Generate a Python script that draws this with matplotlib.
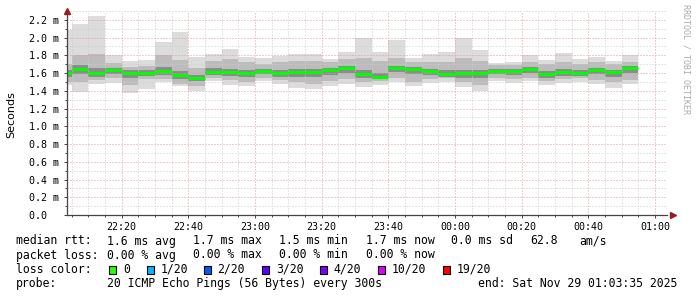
import matplotlib
matplotlib.use("Agg")
import matplotlib.dates as mdates
import matplotlib.pyplot as plt
import pandas as pd
from matplotlib.patches import Rectangle
from matplotlib.ticker import FuncFormatter, MultipleLocator

# 5-minute samples, each value covers the 5 minutes ending at its timestamp
sample_end = pd.date_range("2025-11-28 22:05", periods=35, freq="5min")
window_start = pd.Timestamp("2025-11-28 22:03:35")
window_end = pd.Timestamp("2025-11-29 01:03:35")

# round trip times in ms
rtt_median = [1.605, 1.65, 1.60, 1.63, 1.60, 1.60, 1.62, 1.575, 1.545, 1.617,
              1.61, 1.605, 1.625, 1.605, 1.613, 1.613, 1.636, 1.655, 1.59, 1.56,
              1.652, 1.643, 1.62, 1.592, 1.60, 1.605, 1.627, 1.622, 1.648, 1.587,
              1.615, 1.60, 1.636, 1.615, 1.655]
rtt_max = [2.09, 2.155, 2.24, 1.805, 1.737, 1.75, 1.95, 2.065, 1.785, 1.82,
           1.873, 1.785, 1.767, 1.79, 1.82, 1.82, 1.757, 1.835, 1.995, 1.838,
           1.974, 1.767, 1.812, 1.838, 1.995, 1.86, 1.71, 1.725, 1.805, 1.75,
           1.83, 1.76, 1.786, 1.738, 1.805]
rtt_min = [1.47, 1.385, 1.475, 1.49, 1.37, 1.42, 1.505, 1.45, 1.40, 1.51,
           1.467, 1.45, 1.51, 1.478, 1.436, 1.42, 1.45, 1.478, 1.44, 1.467,
           1.505, 1.46, 1.486, 1.497, 1.44, 1.40, 1.51, 1.486, 1.51, 1.467,
           1.49, 1.505, 1.478, 1.436, 1.472]
rtt_p90 = [1.70, 1.80, 1.82, 1.71, 1.67, 1.68, 1.80, 1.75, 1.66, 1.74,
           1.76, 1.73, 1.70, 1.72, 1.74, 1.74, 1.72, 1.76, 1.77, 1.74,
           1.77, 1.72, 1.72, 1.73, 1.77, 1.74, 1.69, 1.69, 1.72, 1.70,
           1.73, 1.70, 1.72, 1.70, 1.73]
rtt_p10 = [1.50, 1.505, 1.52, 1.54, 1.47, 1.537, 1.537, 1.48, 1.45, 1.54,
           1.52, 1.50, 1.55, 1.52, 1.50, 1.48, 1.51, 1.53, 1.50, 1.51,
           1.55, 1.50, 1.53, 1.54, 1.50, 1.47, 1.55, 1.53, 1.55, 1.51,
           1.53, 1.54, 1.52, 1.50, 1.52]
rtt_p70 = [1.64, 1.69, 1.66, 1.66, 1.63, 1.63, 1.67, 1.62, 1.58, 1.66,
           1.65, 1.64, 1.65, 1.64, 1.65, 1.65, 1.66, 1.68, 1.63, 1.60,
           1.68, 1.67, 1.65, 1.63, 1.64, 1.64, 1.65, 1.65, 1.67, 1.62,
           1.65, 1.63, 1.66, 1.64, 1.68]
rtt_p30 = [1.56, 1.59, 1.56, 1.59, 1.55, 1.57, 1.58, 1.53, 1.51, 1.58,
           1.57, 1.56, 1.59, 1.56, 1.56, 1.56, 1.58, 1.60, 1.55, 1.53,
           1.61, 1.59, 1.58, 1.56, 1.55, 1.55, 1.59, 1.58, 1.60, 1.55,
           1.57, 1.57, 1.59, 1.56, 1.60]

loss_labels = ["0", "1/20", "2/20", "3/20", "4/20", "10/20", "19/20"]
loss_colors = ["#26ff00", "#00b8ff", "#0059ff", "#5e00ff", "#7e00ff", "#dd00ff", "#ff0000"]

stats_rtt = ["1.6 ms avg", "1.7 ms max", "1.5 ms min", "1.7 ms now", "0.0 ms sd", "62.8", "am/s"]
stats_loss = ["0.00 % avg", "0.00 % max", "0.00 % min", "0.00 % now"]

W, H = 697, 297
fig = plt.figure(figsize=(W / 100, H / 100), dpi=100)
fig.patch.set_facecolor("white")
ax = fig.add_axes([67 / W, 1 - 215 / H, 600 / W, (215 - 11) / H])

step = pd.Timedelta(minutes=5)
left = mdates.date2num(sample_end - step)
width = 5 / 1440

def band(lo, hi, color):
    heights = [h - l for l, h in zip(lo, hi)]
    ax.bar(left, heights, bottom=lo, width=width, align="edge",
           color=color, linewidth=0, zorder=1)

band(rtt_min, rtt_max, "#dcdcdc")
band(rtt_p10, rtt_p90, "#bcbcbc")
band(rtt_p30, rtt_p70, "#8c8c8c")
ax.hlines(rtt_median, left, left + width, colors="#00ff00", linewidth=2.2, zorder=4)

ax.set_xlim(mdates.date2num(window_start), mdates.date2num(window_end))
ax.set_ylim(0, 2.3)

ax.xaxis.set_major_locator(mdates.MinuteLocator(byminute=[0, 20, 40]))
ax.xaxis.set_minor_locator(mdates.MinuteLocator(byminute=range(0, 60, 5)))
ax.xaxis.set_major_formatter(mdates.DateFormatter("%H:%M"))
ax.yaxis.set_major_locator(MultipleLocator(0.2))
ax.yaxis.set_minor_locator(MultipleLocator(0.1))
ax.yaxis.set_major_formatter(FuncFormatter(lambda v, p: "0.0  " if abs(v) < 1e-9 else f"{v:.1f} m"))

ax.set_axisbelow(False)
ax.grid(True, which="minor", color="#cccccc", linestyle=(0, (1, 2)), linewidth=0.72, zorder=2)
ax.grid(True, which="major", color="#e59a9a", linestyle=(0, (1, 2)), linewidth=0.72, zorder=3)

for s in ["top", "right"]:
    ax.spines[s].set_visible(False)
for s in ["left", "bottom"]:
    ax.spines[s].set_color("#444444")
    ax.spines[s].set_linewidth(0.9)
    ax.spines[s].set_zorder(5)

mono = "DejaVu Sans Mono"
ax.tick_params(which="both", colors="#444444", labelcolor="black", labelsize=7.2, width=0.7)
ax.tick_params(axis="x", which="major", length=2, pad=3)
ax.tick_params(axis="x", which="minor", length=1.5)
ax.tick_params(axis="y", which="major", length=2, pad=3.5)
ax.tick_params(axis="y", which="minor", length=1.5)
for lbl in ax.get_xticklabels() + ax.get_yticklabels():
    lbl.set_family(mono)

# arrows at the axis ends
ax.plot([0], [1.0], marker="^", color="#9b1c1c", markersize=4, transform=ax.transAxes, clip_on=False, zorder=6)
ax.plot([1.01], [0], marker=">", color="#9b1c1c", markersize=4, transform=ax.transAxes, clip_on=False, zorder=6)

fig.text(11 / W, 1 - 115 / H, "Seconds", rotation=90, ha="center", va="center", fontsize=8)
fig.text(686 / W, 1 - 4 / H, "RRDTOOL / TOBI OETIKER", rotation=270, ha="center", va="top",
         fontsize=6, color="#aaaaaa", family=mono)

fs = 8.3
def line_text(x, y, s):
    fig.text(x / W, 1 - y / H, s, ha="left", va="center", fontsize=fs, family=mono)

line_text(16, 241, "median rtt:")
for x, s in zip([107, 193, 279, 366, 451, 530, 579], stats_rtt):
    line_text(x, 241, s)
line_text(16, 255, "packet loss:")
for x, s in zip([107, 193, 279, 366], stats_loss):
    line_text(x, 255, s)
line_text(16, 269.5, "loss color:")
for x, s, c in zip([109, 146.5, 203.5, 262, 319.5, 377.5, 442.5], loss_labels, loss_colors):
    fig.patches.append(Rectangle((x / W, 1 - 273.5 / H), 7 / W, 8 / H, transform=fig.transFigure,
                                 facecolor=c, edgecolor="black", linewidth=0.8))
    line_text(x + 14, 269.5, s)
line_text(16, 283.5, "probe:")
line_text(107, 283.5, "20 ICMP Echo Pings (56 Bytes) every 300s")
line_text(478, 283.5, "end: Sat Nov 29 01:03:35 2025")

fig.savefig("out.png", dpi=100, facecolor="white")
